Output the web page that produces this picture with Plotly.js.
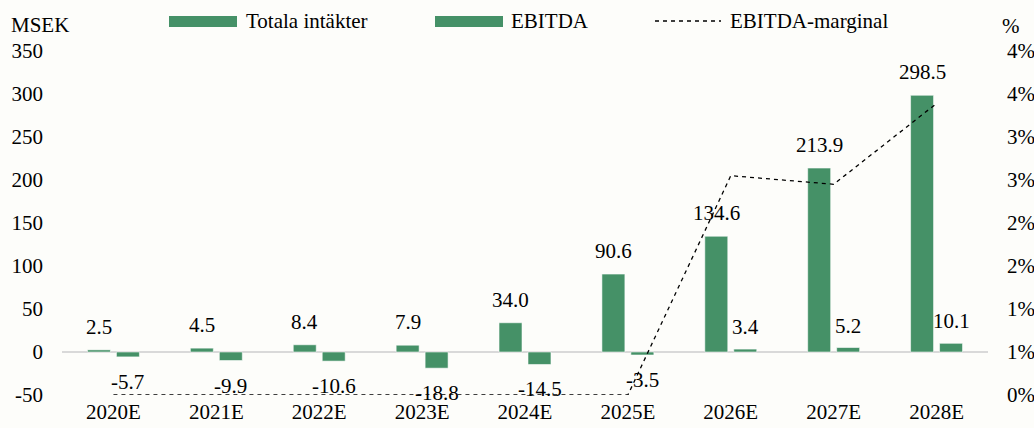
<!DOCTYPE html>
<html>
<head>
<meta charset="utf-8">
<script src="https://cdn.plot.ly/plotly-3.0.1.min.js"></script>
<style>
html,body{margin:0;padding:0;background:#FDFDFA;}
#chart{width:1034px;height:428px;}
</style>
</head>
<body>
<div id="chart"></div>
<script>
// ---- data ----
const years = ["2020E","2021E","2022E","2023E","2024E","2025E","2026E","2027E","2028E"];
const revenue = [2.5, 4.5, 8.4, 7.9, 34.0, 90.6, 134.6, 213.9, 298.5];
const ebitda = [-5.7, -9.9, -10.6, -18.8, -14.5, -3.5, 3.4, 5.2, 10.1];
const ebitdaMargin = [0, 0, 0, 0, 0, 0, 2.55, 2.45, 3.39]; // % as drawn (negatives shown at axis floor)
const leftTicks = [-50, 0, 50, 100, 150, 200, 250, 300, 350];
const leftTickLabels = ["-50","0","50","100","150","200","250","300","350"];
const rightTicks = [0, 0.5, 1, 1.5, 2, 2.5, 3, 3.5, 4];
const rightTickLabels = ["0%","1%","1%","2%","2%","3%","3%","4%","4%"];
const seriesNames = ["Totala intäkter", "EBITDA", "EBITDA-marginal"];

// ---- styling ----
const GREEN = "#459167";
const FONT = "Liberation Serif, Times New Roman, serif";
const FS = 21;
const W = 1034, H = 428;
const M = {l: 62, r: 46, t: 51, b: 33};
const PW = W - M.l - M.r, PH = H - M.t - M.b;
const px2x = px => (px - M.l) / PW;
const py2y = py => (H - M.b - py) / PH;

const traces = [
  {type: "bar", x: years, y: revenue, name: seriesNames[0],
   marker: {color: GREEN, line: {color: "rgba(255,255,255,0.55)", width: 1}},
   showlegend: false, hoverinfo: "x+y"},
  {type: "bar", x: years, y: ebitda, name: seriesNames[1],
   marker: {color: GREEN, line: {color: "rgba(255,255,255,0.55)", width: 1}},
   showlegend: false, hoverinfo: "x+y"},
  {type: "scatter", mode: "lines", x: years, y: ebitdaMargin, yaxis: "y2",
   name: seriesNames[2], line: {color: "#000", width: 1.3, dash: "4px,4px"},
   cliponaxis: false, showlegend: false}
];

const annotations = [];
years.forEach((yr, i) => {
  annotations.push({x: yr, y: revenue[i], xref: "x", yref: "y", text: revenue[i].toFixed(1),
    showarrow: false, xshift: -14.5, yshift: 23, yanchor: "middle",
    font: {family: FONT, size: FS, color: "#000"}});
  annotations.push({x: yr, y: ebitda[i], xref: "x", yref: "y", text: ebitda[i].toFixed(1),
    showarrow: false, xshift: 14.5, yshift: ebitda[i] >= 0 ? 22 : -25, yanchor: "middle",
    font: {family: FONT, size: FS, color: "#000"}});
});
// axis unit labels
annotations.push({xref: "paper", yref: "paper", x: px2x(9), y: py2y(25), xanchor: "left", yanchor: "middle",
  text: "MSEK", showarrow: false, font: {family: FONT, size: FS, color: "#000"}});
annotations.push({xref: "paper", yref: "paper", x: px2x(1000), y: py2y(26), xanchor: "left", yanchor: "middle",
  text: "%", showarrow: false, font: {family: FONT, size: FS, color: "#000"}});
// custom legend
const legendItems = [
  {kind: "box", x0: 169, x1: 237, tx: 244, text: seriesNames[0]},
  {kind: "box", x0: 435, x1: 503, tx: 509, text: seriesNames[1]},
  {kind: "line", x0: 655, x1: 721, tx: 728, text: seriesNames[2]}
];
const shapes = [];
legendItems.forEach(it => {
  if (it.kind === "box") {
    shapes.push({type: "rect", xref: "paper", yref: "paper", x0: px2x(it.x0), x1: px2x(it.x1),
      y0: py2y(27), y1: py2y(16), fillcolor: GREEN, line: {width: 0}});
  } else {
    shapes.push({type: "line", xref: "paper", yref: "paper", x0: px2x(it.x0), x1: px2x(it.x1),
      y0: py2y(21), y1: py2y(21), line: {color: "#000", width: 1.3, dash: "4px,4px"}});
  }
  annotations.push({xref: "paper", yref: "paper", x: px2x(it.tx), y: py2y(21), xanchor: "left", yanchor: "middle",
    text: it.text, showarrow: false, font: {family: FONT, size: FS, color: "#000"}});
});

const layout = {
  width: W, height: H,
  margin: M,
  paper_bgcolor: "#FDFDFA", plot_bgcolor: "#FDFDFA",
  font: {family: FONT, size: FS, color: "#000"},
  barmode: "group", bargap: 0.437, bargroupgap: 0.207,
  showlegend: false,
  xaxis: {type: "category", showgrid: false, showline: false, zeroline: false, ticks: "",
    tickfont: {family: FONT, size: FS, color: "#000"}, ticklabelstandoff: 2},
  yaxis: {range: [-50, 350], tickvals: leftTicks, ticktext: leftTickLabels, showgrid: false,
    showline: false, ticks: "", zeroline: true, zerolinecolor: "#D9D9D9", zerolinewidth: 2,
    tickfont: {family: FONT, size: FS, color: "#000"}, ticklabelstandoff: 18},
  yaxis2: {range: [0, 4], overlaying: "y", side: "right", tickvals: rightTicks, ticktext: rightTickLabels,
    showgrid: false, showline: false, zeroline: false, ticks: "",
    tickfont: {family: FONT, size: FS, color: "#000"}, ticklabelstandoff: 18},
  annotations: annotations,
  shapes: shapes
};

Plotly.newPlot("chart", traces, layout, {displayModeBar: false, staticPlot: true});
</script>
</body>
</html>
